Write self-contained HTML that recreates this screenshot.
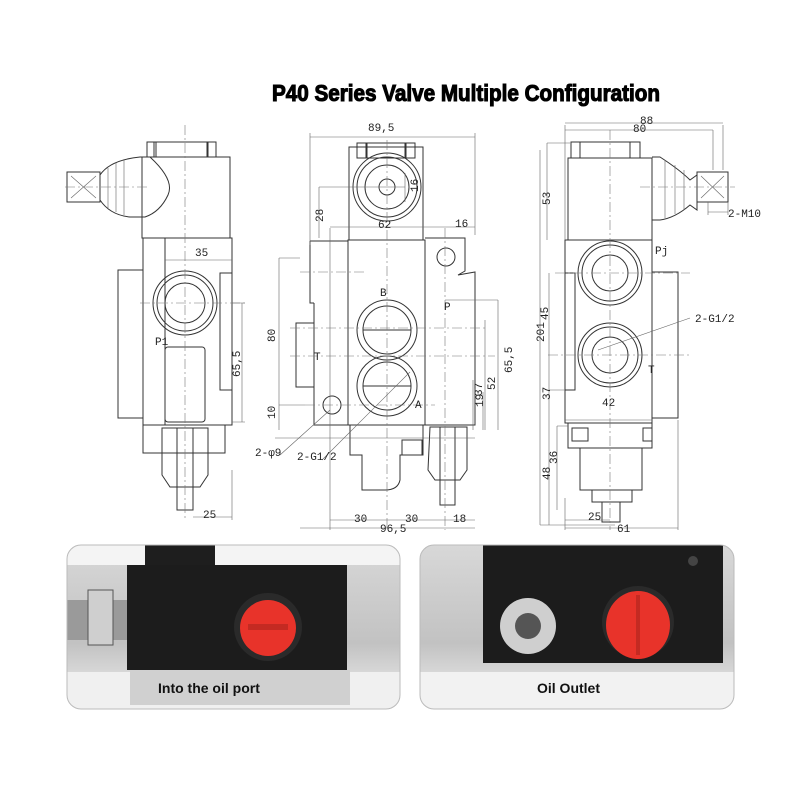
<!DOCTYPE html>
<html><head><meta charset="utf-8"><style>
html,body{margin:0;padding:0;background:#fff;width:800px;height:800px;overflow:hidden}
svg{display:block}
.l{stroke:#333;stroke-width:1;fill:none}
.t{stroke:#666;stroke-width:.6;fill:none}
.c{stroke:#777;stroke-width:.6;fill:none;stroke-dasharray:10 3 2 3}
text{font-family:"Liberation Mono",monospace;font-size:11px;fill:#222}
.lab{font-family:"Liberation Sans",sans-serif;font-size:14px;fill:#111;font-weight:bold}
</style></head><body>
<svg width="800" height="800" viewBox="0 0 800 800">
<text x="272" y="101" textLength="388" lengthAdjust="spacingAndGlyphs" style="font-family:'Liberation Sans Narrow','Liberation Sans',sans-serif;font-weight:bold;font-size:23px;fill:#000;stroke:#000;stroke-width:1.1">P40 Series Valve Multiple Configuration</text>

<!-- LEFT VIEW -->
<g>
<rect class="l" x="147" y="142" width="9" height="15"/><rect class="l" x="207" y="142" width="9" height="15"/><rect class="l" x="154" y="142" width="54" height="15"/>
<rect class="l" x="142" y="157" width="88" height="81"/>
<path class="l" d="M100 175 Q110 160 140 157 L150 157 Q175 180 168 195 Q160 212 145 217 L130 217 Q110 215 100 200 Z"/>
<path class="t" d="M108 168 V208 M116 163 V212 M124 160 V215"/>
<rect class="l" x="67" y="172" width="33" height="30"/><path class="t" d="M71 176 L96 198 M96 176 L71 198"/>
<rect class="l" x="143" y="238" width="89" height="187"/>
<rect class="l" x="118" y="270" width="25" height="148"/>
<rect class="l" x="165" y="238" width="67" height="187"/>
<circle class="l" cx="185" cy="303" r="32"/><circle class="l" cx="185" cy="303" r="28"/><circle class="l" cx="185" cy="303" r="20"/>
<rect class="l" x="165" y="347" width="40" height="75" rx="3"/>
<rect class="l" x="220" y="273" width="12" height="117"/>
<rect class="l" x="143" y="425" width="82" height="28"/>
<path class="l" d="M162 428 H208 V475 L200 487 H170 L162 475 Z M177 428 V487 M193 428 V487"/>
<rect class="l" x="177" y="487" width="16" height="23"/>
<path class="c" d="M185 125 V520 M140 303 H245 M65 187 H150"/>
<path class="t" d="M165 260 H232 M232 303 H245 M232 422 H245 M242 303 V422 M193 517 H232 M232 470 V520"/>
<text x="195" y="256">35</text><text x="155" y="345">P1</text>
<text x="233" y="370" transform="rotate(-90 240 370)">65,5</text>
<text x="203" y="518">25</text>
</g>

<!-- MIDDLE VIEW -->
<g>
<rect class="l" x="357" y="143" width="10" height="15"/><rect class="l" x="405" y="143" width="10" height="15"/><rect class="l" x="366" y="143" width="40" height="15"/>
<rect class="l" x="349" y="147" width="74" height="93"/>
<circle class="l" cx="387" cy="187" r="34"/><circle class="l" cx="387" cy="187" r="30"/><circle class="l" cx="387" cy="187" r="22"/><circle class="l" cx="387" cy="187" r="8"/>
<rect class="l" x="348" y="240" width="77" height="185"/>
<path class="l" d="M310 241 H348 M310 241 V303 H314 M314 303 V425 H348 M296 323 H314 V387 H296 Z"/>
<path class="l" d="M425 238 H465 V271 L458 275 L475 272 V425 H425"/>
<circle class="l" cx="446" cy="257" r="9"/>
<circle class="l" cx="332" cy="405" r="9"/>
<circle class="l" cx="387" cy="330" r="30"/><circle class="l" cx="387" cy="386" r="30"/>
<circle class="l" cx="387" cy="330" r="24"/><circle class="l" cx="387" cy="386" r="24"/>
<path class="l" d="M363 330 H411 M363 386 H411"/>
<path class="l" d="M350 425 H423 V455 H400 V480 Q398 490 385 490 H362 V455 H350 Z"/>
<rect class="l" x="402" y="440" width="20" height="15"/>
<path class="l" d="M430 427 H467 V470 L460 480 H435 L428 470 Z M440 427 V480 M455 427 V480"/>
<rect class="l" x="440" y="480" width="15" height="25"/>
<path class="c" d="M387 140 V530 M445 228 V530 M300 272 H365 M290 356 H495 M290 328 H485 M305 405 H435"/>
<path class="t" d="M310 133 V245 M475 133 V235 M310 137 H475 M319 187 H405 M319 187 V238 M405 173 V202 M330 228 V530 M330 227 H475 M445 227 H475 M279 258 V430 M279 258 H300 M279 405 H305 M275 438 H475 M498 300 V430 M485 320 V430 M473 380 V430 M483 392 V430 M498 300 H445 M330 520 H475 M300 528 H475"/>
<path class="t" d="M280 455 L330 410 M322 460 L410 372"/>
<text x="368" y="131">89,5</text><text x="378" y="228">62</text><text x="455" y="227">16</text>
<text x="309" y="222" transform="rotate(-90 316 215)">28</text>
<text x="408" y="194" transform="rotate(-90 412 188)">16</text>
<text x="268" y="335" transform="rotate(-90 275 335)">80</text>
<text x="268" y="412" transform="rotate(-90 275 412)">10</text>
<text x="380" y="296">B</text><text x="415" y="408">A</text><text x="444" y="310">P</text><text x="314" y="360">T</text>
<text x="487" y="372" transform="rotate(-90 500 360)">65,5</text>
<text x="478" y="387" transform="rotate(-90 488 380)">52</text>
<text x="470" y="392" transform="rotate(-90 478 388)">37</text>
<text x="475" y="405" transform="rotate(-90 480 402)">19</text>
<text x="255" y="456">2-φ9</text><text x="297" y="460">2-G1/2</text>
<text x="354" y="522">30</text><text x="405" y="522">30</text><text x="453" y="522">18</text><text x="380" y="532">96,5</text>
</g>

<!-- RIGHT VIEW -->
<g>
<rect class="l" x="571" y="142" width="9" height="16"/><rect class="l" x="630" y="142" width="10" height="16"/><rect class="l" x="580" y="142" width="50" height="16"/>
<rect class="l" x="568" y="158" width="84" height="82"/>
<path class="l" d="M652 157 L660 157 Q680 170 690 180 L697 175 V210 L690 205 Q675 218 660 220 L652 220"/>
<path class="t" d="M665 160 V218 M675 165 V214 M684 170 V210"/>
<rect class="l" x="697" y="172" width="31" height="30"/><path class="t" d="M701 176 L724 198 M724 176 L701 198"/>
<rect class="l" x="565" y="240" width="87" height="183"/>
<rect class="l" x="652" y="272" width="26" height="146"/>
<rect class="l" x="565" y="273" width="10" height="117"/>
<circle class="l" cx="610" cy="273" r="32"/><circle class="l" cx="610" cy="273" r="28"/><circle class="l" cx="610" cy="273" r="18"/>
<circle class="l" cx="610" cy="355" r="32"/><circle class="l" cx="610" cy="355" r="28"/><circle class="l" cx="610" cy="355" r="18"/>
<rect class="l" x="568" y="423" width="84" height="25"/>
<rect class="l" x="580" y="448" width="62" height="42"/>
<rect class="l" x="572" y="428" width="16" height="13"/><rect class="l" x="643" y="428" width="9" height="13"/>
<rect class="l" x="592" y="490" width="40" height="12"/><rect class="l" x="602" y="502" width="18" height="20"/>
<path class="c" d="M610 130 V530 M555 273 H690 M548 355 H690 M640 187 H735"/>
<path class="t" d="M565 125 V240 M723 125 V170 M565 123 H723 M565 130 H713 M713 130 V170 M547 143 V240 M547 143 H570 M540 150 V525 M549 273 V525 M549 390 H565 M540 525 H615 M557 426 V510 M557 426 H568 M565 420 H652 M565 498 V530 M678 420 V530 M565 528 H678 M565 520 H610 M708 202 V215 M728 202 V215 M708 212 H728 M598 350 L690 318"/>
<text x="640" y="124">88</text><text x="633" y="132">80</text>
<text x="535" y="200" transform="rotate(-90 545 195)">53</text>
<text x="528" y="334" transform="rotate(-90 540 330)">201</text>
<text x="537" y="315" transform="rotate(-90 545 312)">45</text>
<text x="535" y="395" transform="rotate(-90 545 390)">37</text>
<text x="535" y="475" transform="rotate(-90 545 470)">48</text>
<text x="545" y="460" transform="rotate(-90 553 456)">36</text>
<text x="602" y="406">42</text><text x="588" y="520">25</text><text x="617" y="532">61</text>
<text x="655" y="254">Pj</text><text x="648" y="373">T</text>
<text x="695" y="322">2-G1/2</text><text x="728" y="217">2-M10</text>
</g>

<!-- PHOTOS -->
<defs>
<clipPath id="cl"><rect x="67" y="545" width="333" height="164" rx="14"/></clipPath>
<clipPath id="cr"><rect x="420" y="545" width="314" height="164" rx="14"/></clipPath>
<linearGradient id="bg" x1="0" y1="0" x2="0" y2="1"><stop offset="0" stop-color="#d8d8d8"/><stop offset=".6" stop-color="#c2c2c2"/><stop offset="1" stop-color="#f2f2f2"/></linearGradient>
</defs>
<g clip-path="url(#cl)">
<rect x="67" y="545" width="333" height="164" fill="url(#bg)"/>
<rect x="67" y="545" width="333" height="20" fill="#f4f4f4"/>
<rect x="67" y="672" width="333" height="40" fill="#f0f0f0"/>
<rect x="130" y="670" width="220" height="35" fill="#d0d0d0"/>
<rect x="145" y="545" width="70" height="40" fill="#1e1e1e"/>
<rect x="127" y="565" width="220" height="105" fill="#1c1c1c"/>
<rect x="67" y="600" width="60" height="40" fill="#9a9a9a"/>
<rect x="88" y="590" width="25" height="55" fill="#cfcfcf" stroke="#555"/>
<circle cx="268" cy="627" r="34" fill="#2a2a2a"/>
<circle cx="268" cy="628" r="28" fill="#e8332a"/>
<rect x="248" y="624" width="40" height="6" fill="#c42a22"/>
<text class="lab" x="158" y="693">Into the oil port</text>
</g>
<rect x="67" y="545" width="333" height="164" rx="14" fill="none" stroke="#bbb"/>
<g clip-path="url(#cr)">
<rect x="420" y="545" width="314" height="164" fill="url(#bg)"/>
<rect x="420" y="672" width="314" height="40" fill="#f2f2f2"/>
<rect x="483" y="545" width="240" height="118" fill="#1c1c1c"/>
<circle cx="528" cy="626" r="28" fill="#cfcfcf"/><circle cx="528" cy="626" r="13" fill="#555"/>
<circle cx="638" cy="622" r="36" fill="#2a2a2a"/>
<ellipse cx="638" cy="625" rx="32" ry="34" fill="#e8332a"/>
<rect x="636" y="595" width="4" height="60" fill="#c42a22"/>
<circle cx="693" cy="561" r="5" fill="#444"/>
<text class="lab" x="537" y="693">Oil Outlet</text>
</g>
<rect x="420" y="545" width="314" height="164" rx="14" fill="none" stroke="#bbb"/>
</svg>
</body></html>
